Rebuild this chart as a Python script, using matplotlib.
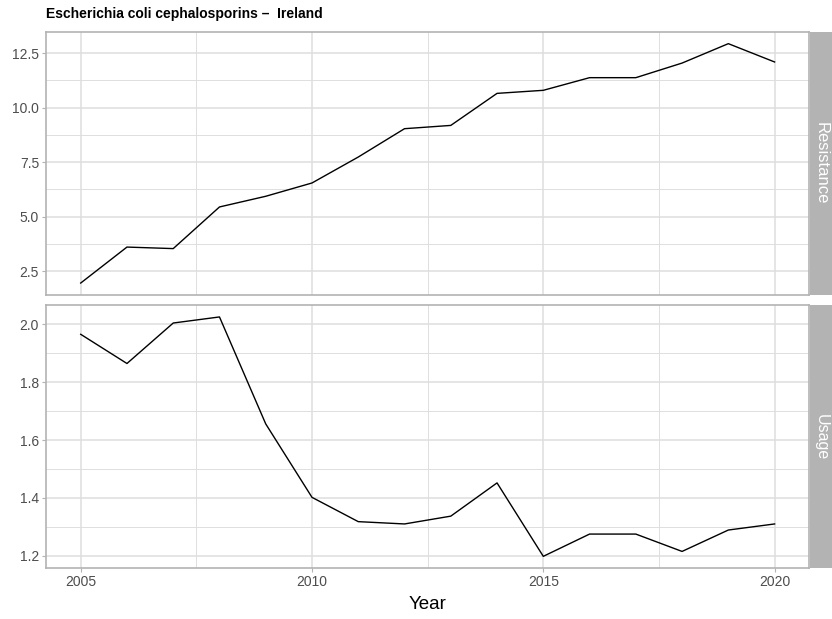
import numpy as np
import matplotlib.pyplot as plt
from matplotlib.ticker import MultipleLocator

plt.rcParams['font.family'] = ['Liberation Sans', 'DejaVu Sans']

years = list(range(2005, 2021))
resistance = [1.95, 3.6, 3.53, 5.44, 5.93, 6.54, 7.73, 9.03, 9.18, 10.65,
              10.79, 11.37, 11.37, 12.04, 12.93, 12.09]
usage = [1.966, 1.865, 2.005, 2.026, 1.656, 1.402, 1.318, 1.310, 1.337, 1.452,
         1.198, 1.275, 1.275, 1.215, 1.289, 1.310]
panels = ['Resistance', 'Usage']
title = 'Escherichia coli cephalosporins \u2013  Ireland'

grid_col = '#DEDEDE'
border_col = '#B3B3B3'

fig = plt.figure(figsize=(8.32, 6.19), dpi=100)
ax1 = fig.add_axes([0.0553, 0.5234, 0.9174, 0.4254])
ax2 = fig.add_axes([0.0553, 0.0819, 0.9174, 0.4254], sharex=ax1)

for ax, vals, name, ymaj, fs in [(ax1, resistance, panels[0], 2.5, 12),
                                 (ax2, usage, panels[1], 0.2, 11.5)]:
    ax.plot(years, vals, color='black', lw=1.0, zorder=3)
    span = max(vals) - min(vals)
    ax.set_ylim(min(vals) - 0.05 * span, max(vals) + 0.05 * span)
    ax.set_xlim(2004.25, 2020.75)
    ax.xaxis.set_major_locator(MultipleLocator(5))
    ax.xaxis.set_minor_locator(MultipleLocator(2.5))
    ax.yaxis.set_major_locator(MultipleLocator(ymaj))
    ax.yaxis.set_minor_locator(MultipleLocator(ymaj / 2))
    ax.grid(which='major', color=grid_col, lw=1.1, zorder=0)
    ax.grid(which='minor', color=grid_col, lw=0.7, zorder=0)
    for s in ax.spines.values():
        s.set_color(border_col)
        s.set_linewidth(1.2)
    ax.tick_params(which='major', length=3, color=border_col, labelcolor='#4D4D4D',
                   labelsize=10, pad=2)
    ax.tick_params(which='minor', length=0)
    ax.set_axisbelow(True)
    # facet strip on the right
    pos = ax.get_position()
    fig.patches.append(plt.Rectangle((pos.x1 + 0.001, pos.y0), 1 - pos.x1, pos.height,
                                     transform=fig.transFigure, facecolor=border_col,
                                     edgecolor='none', zorder=1))
    fig.text(pos.x1 + 0.0145, pos.y0 + pos.height / 2, name, rotation=-90,
             color='white', fontsize=fs, ha='center', va='center')

ax1.tick_params(axis='x', labelbottom=False, length=0)
ax2.set_xlabel('Year', fontsize=13.5, labelpad=5)
fig.text(0.0553, 0.977, title, fontsize=10, fontweight='bold', ha='left', va='center')

fig.savefig('out.png', dpi=100)
